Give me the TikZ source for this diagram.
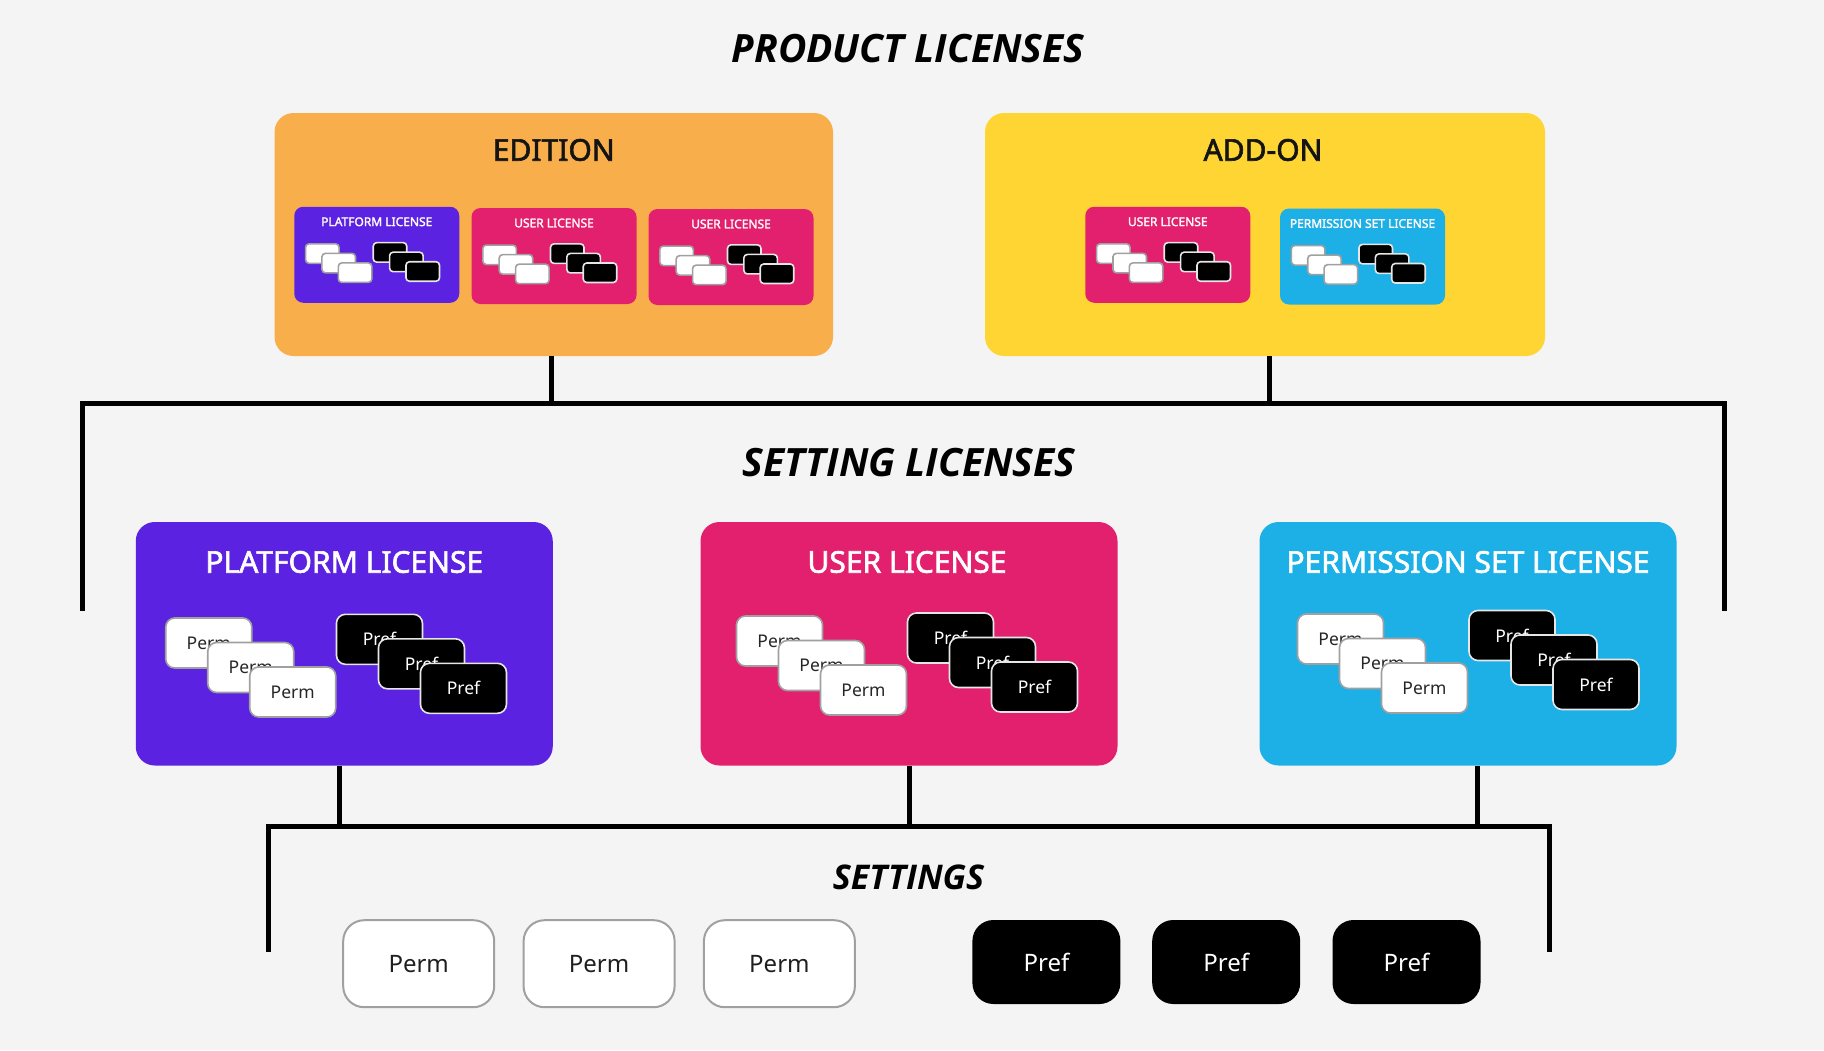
\documentclass[tikz,border=0pt]{standalone}
\usepackage{fontspec}
\setmainfont{Noto Sans}
\newfontfamily\medfont[FakeBold=2]{Noto Sans}
\newfontfamily\headfont{Open Sans}
\usetikzlibrary{calc}
\definecolor{bg}{HTML}{F4F4F4}
\definecolor{edorange}{HTML}{F9AE4C}
\definecolor{addyellow}{HTML}{FED533}
\definecolor{platpurple}{HTML}{5B22E1}
\definecolor{userpink}{HTML}{E3206D}
\definecolor{permcyan}{HTML}{1DB0E7}
\definecolor{cardgray}{HTML}{A0A0A0}
\definecolor{cardlight}{HTML}{E6E6E6}
\newcommand\cardset[8]{%
  \foreach \i in {0,1,2}{
    \node[wcard, minimum width={#2*86pt}, minimum height={#2*50pt}, rounded corners={#2*9pt}] (#1-w\i)
      at ($(#1.north west)+({#2*(#3+43+42*\i)},{#2*(#4+25+24.5*\i)})$) {#7};
  }
  \foreach \i in {0,1,2}{
    \node[bcard, minimum width={#2*86pt}, minimum height={#2*50pt}, rounded corners={#2*9pt}] (#1-b\i)
      at ($(#1.north west)+({#2*(#5+43+42*\i)},{#2*(#6+25+24.5*\i)})$) {#8};
  }
}
\begin{document}
\begin{tikzpicture}[x=1pt,y=-1pt,
  bigbox/.style={inner sep=0pt, outer sep=0pt, rounded corners=19pt},
  minibox/.style={inner sep=0pt, outer sep=0pt, rounded corners=9pt, minimum width=165pt, minimum height=96pt},
  setbox/.style={inner sep=0pt, outer sep=0pt, rounded corners=19pt, minimum width=417pt, minimum height=243.5pt},
  wcard/.style={fill=white, draw=cardgray, line width=1.6pt, inner sep=0pt, outer sep=0pt, text=black!85, font=\fontsize{17.5}{20}\selectfont},
  bcard/.style={fill=black, draw=cardlight, line width=1.6pt, inner sep=0pt, outer sep=0pt, text=white, font=\fontsize{17.5}{20}\selectfont},
  heading/.style={inner sep=0pt, font=\headfont\bfseries\itshape\fontsize{39}{44}\selectfont, text=black},
  boxtitle/.style={inner sep=0pt, font=\medfont\fontsize{30}{34}\selectfont},
  minititle/.style={inner sep=0pt, font=\medfont\fontsize{12}{14}\selectfont, text=white!92!pink},
  conn/.style={line width=5pt, draw=black, line join=miter},
  wset/.style={fill=white, draw=cardgray, line width=2pt, rounded corners=21pt, minimum width=151pt, minimum height=87pt, inner sep=0pt, font=\fontsize{24}{28}\selectfont, text=black!88},
  bset/.style={fill=black, rounded corners=21pt, minimum width=148pt, minimum height=84pt, inner sep=0pt, font=\fontsize{24}{28}\selectfont, text=white}
]
\useasboundingbox[fill=bg] (0,0) rectangle (1824,1050);

% ---------- headings
\node[heading] (h1) at (908,49) {PRODUCT LICENSES};
\node[heading] (h2) at (909,463) {SETTING LICENSES};
\node[heading, font=\headfont\bfseries\itshape\fontsize{34}{38}\selectfont] (h3) at (908.5,877) {SETTINGS};

% ---------- product licenses
\node[bigbox, fill=edorange, minimum width=558.5pt, minimum height=243pt] (edition) at (553.75,234.5) {};
\node[bigbox, fill=addyellow, minimum width=560pt, minimum height=243pt] (addon) at (1265,234.5) {};
\node[boxtitle, text=black!92] (edition-t) at (553.75,150) {EDITION};
\node[boxtitle, text=black!92] (addon-t) at (1263,150) {ADD-ON};

\node[minibox, fill=platpurple] (epl) at (376.75,254.75) {};
\node[minibox, fill=userpink] (eu1) at (554,256) {};
\node[minibox, fill=userpink] (eu2) at (731,257) {};
\node[minibox, fill=userpink] (au) at (1167.75,254.75) {};
\node[minibox, fill=permcyan] (aps) at (1362.5,256.5) {};

\node[minititle] (epl-t) at ($(epl.north)+(0,15)$) {PLATFORM LICENSE};
\node[minititle] (eu1-t) at ($(eu1.north)+(0,15)$) {USER LICENSE};
\node[minititle] (eu2-t) at ($(eu2.north)+(0,15)$) {USER LICENSE};
\node[minititle] (au-t) at ($(au.north)+(0,15)$) {USER LICENSE};
\node[minititle] (aps-t) at ($(aps.north)+(0,15)$) {PERMISSION SET LICENSE};

\cardset{epl}{0.39}{29}{95}{202.5}{92}{}{}
\cardset{eu1}{0.39}{29}{95}{202.5}{92}{}{}
\cardset{eu2}{0.39}{29}{95}{202.5}{92}{}{}
\cardset{au}{0.39}{29}{95}{202.5}{92}{}{}
\cardset{aps}{0.39}{29}{95}{202.5}{92}{}{}

% ---------- top connectors
\coordinate (tbL) at (82.6,403.6);
\coordinate (tbR) at (1724,403.6);
\coordinate (tdL) at (82.6,610.7);
\coordinate (tdR) at (1724,610.7);
\draw[conn] (tdL) -- (tbL) -- (tbR) -- (tdR);
\draw[conn] ([xshift=-2pt]edition.south) -- ([xshift=-2pt]edition.south |- tbL);
\draw[conn] ([xshift=4pt]addon.south) -- ([xshift=4pt]addon.south |- tbL);

% ---------- setting licenses
\node[setbox, fill=platpurple] (pl) at (344.25,643.75) {};
\node[setbox, fill=userpink] (ul) at (909,643.75) {};
\node[setbox, fill=permcyan] (ps) at (1468,643.75) {};
\node[boxtitle, text=white] (pl-t) at (344.25,562) {PLATFORM LICENSE};
\node[boxtitle, text=white] (ul-t) at (907,562) {USER LICENSE};
\node[boxtitle, text=white] (ps-t) at (1468,562) {PERMISSION SET LICENSE};

\cardset{pl}{1}{30}{96}{200.7}{92.3}{Perm}{Pref}
\cardset{ul}{1}{36}{94}{207}{91}{Perm}{Pref}
\cardset{ps}{1}{38}{92}{209.5}{88.5}{Perm}{Pref}

% ---------- bottom connectors
\coordinate (sbL) at (268.7,826);
\coordinate (sbR) at (1549.5,826);
\coordinate (sdL) at (268.7,951.6);
\coordinate (sdR) at (1549.5,951.6);
\draw[conn] (sdL) -- (sbL) -- (sbR) -- (sdR);
\draw[conn] ([xshift=-4.5pt]pl.south) -- ([xshift=-4.5pt]pl.south |- sbL);
\draw[conn] ([xshift=0.7pt]ul.south) -- ([xshift=0.7pt]ul.south |- sbL);
\draw[conn] ([xshift=9.4pt]ps.south) -- ([xshift=9.4pt]ps.south |- sbL);

% ---------- settings
\node[wset] (s1) at (418.7,963.7) {Perm};
\node[wset] (s2) at (599.1,963.7) {Perm};
\node[wset] (s3) at (779.4,963.7) {Perm};
\node[bset] (s4) at (1046.4,962) {Pref};
\node[bset] (s5) at (1226.2,962) {Pref};
\node[bset] (s6) at (1406.5,962) {Pref};
\end{tikzpicture}
\end{document}
